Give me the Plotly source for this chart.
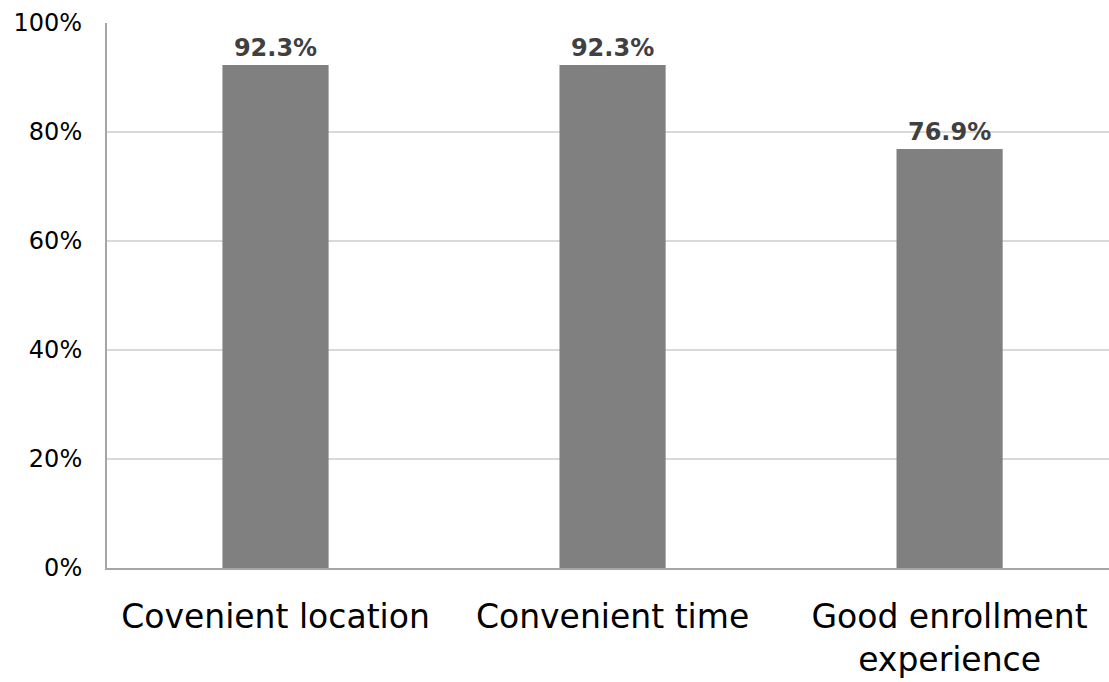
import plotly.graph_objects as go

categories = ["Covenient location", "Convenient time", "Good enrollment<br>experience"]
values = [92.3, 92.3, 76.9]
value_labels = ["92.3%", "92.3%", "76.9%"]
y_ticks = [0, 20, 40, 60, 80, 100]
y_tick_labels = ["0%", "20%", "40%", "60%", "80%", "100%"]

fig = go.Figure(
    go.Bar(
        x=categories,
        y=values,
        text=value_labels,
        textposition="outside",
        cliponaxis=False,
        textfont=dict(family="DejaVu Sans", size=24, color="#404040", weight="bold"),
        marker=dict(color="#808080", line=dict(width=0)),
        width=0.315,
    )
)

fig.update_layout(
    width=1109,
    height=682,
    margin=dict(l=107, r=0, t=23, b=114),
    paper_bgcolor="white",
    plot_bgcolor="white",
    showlegend=False,
    font=dict(family="DejaVu Sans", color="black"),
)

fig.update_xaxes(
    range=[-0.5, 2.473],
    showline=True,
    linecolor="#a6a6a6",
    linewidth=2,
    showgrid=False,
    ticks="",
    tickfont=dict(size=33, color="black"),
    ticklabelstandoff=18,
)

fig.update_yaxes(
    range=[0, 100],
    tickvals=y_ticks,
    ticktext=y_tick_labels,
    showline=True,
    linecolor="#a6a6a6",
    linewidth=2,
    showgrid=True,
    gridcolor="#d9d9d9",
    gridwidth=2,
    zeroline=False,
    ticks="",
    tickfont=dict(size=24, color="black"),
    ticklabelstandoff=18,
)

fig.write_html("out.html")
